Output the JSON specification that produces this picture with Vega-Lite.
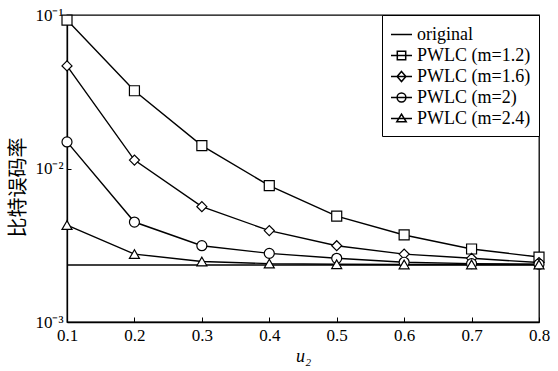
{
  "$schema": "https://vega.github.io/schema/vega-lite/v6.json",
  "width": 472,
  "height": 307,
  "autosize": {"type": "none"},
  "padding": {"left": 67, "top": 15, "right": 19, "bottom": 49},
  "background": "white",
  "config": {
    "view": {"stroke": "black", "strokeWidth": 1.3}
  },
  "data": {
    "values": [
      {"x": 0.1, "y": 0.00235, "s": "original"},
      {"x": 0.2, "y": 0.00235, "s": "original"},
      {"x": 0.3, "y": 0.00235, "s": "original"},
      {"x": 0.4, "y": 0.00235, "s": "original"},
      {"x": 0.5, "y": 0.00235, "s": "original"},
      {"x": 0.6, "y": 0.00235, "s": "original"},
      {"x": 0.7, "y": 0.00235, "s": "original"},
      {"x": 0.8, "y": 0.00235, "s": "original"},
      {"x": 0.1, "y": 0.0927, "s": "PWLC (m=1.2)"},
      {"x": 0.2, "y": 0.0321, "s": "PWLC (m=1.2)"},
      {"x": 0.3, "y": 0.0141, "s": "PWLC (m=1.2)"},
      {"x": 0.4, "y": 0.00773, "s": "PWLC (m=1.2)"},
      {"x": 0.5, "y": 0.00489, "s": "PWLC (m=1.2)"},
      {"x": 0.6, "y": 0.00369, "s": "PWLC (m=1.2)"},
      {"x": 0.7, "y": 0.00299, "s": "PWLC (m=1.2)"},
      {"x": 0.8, "y": 0.00265, "s": "PWLC (m=1.2)"},
      {"x": 0.1, "y": 0.0466, "s": "PWLC (m=1.6)"},
      {"x": 0.2, "y": 0.01135, "s": "PWLC (m=1.6)"},
      {"x": 0.3, "y": 0.00564, "s": "PWLC (m=1.6)"},
      {"x": 0.4, "y": 0.00394, "s": "PWLC (m=1.6)"},
      {"x": 0.5, "y": 0.00314, "s": "PWLC (m=1.6)"},
      {"x": 0.6, "y": 0.00277, "s": "PWLC (m=1.6)"},
      {"x": 0.7, "y": 0.0026, "s": "PWLC (m=1.6)"},
      {"x": 0.8, "y": 0.00244, "s": "PWLC (m=1.6)"},
      {"x": 0.1, "y": 0.0149, "s": "PWLC (m=2)"},
      {"x": 0.2, "y": 0.00448, "s": "PWLC (m=2)"},
      {"x": 0.3, "y": 0.00314, "s": "PWLC (m=2)"},
      {"x": 0.4, "y": 0.0028, "s": "PWLC (m=2)"},
      {"x": 0.5, "y": 0.0026, "s": "PWLC (m=2)"},
      {"x": 0.6, "y": 0.00245, "s": "PWLC (m=2)"},
      {"x": 0.7, "y": 0.0024, "s": "PWLC (m=2)"},
      {"x": 0.8, "y": 0.00238, "s": "PWLC (m=2)"},
      {"x": 0.1, "y": 0.00428, "s": "PWLC (m=2.4)"},
      {"x": 0.2, "y": 0.00277, "s": "PWLC (m=2.4)"},
      {"x": 0.3, "y": 0.00248, "s": "PWLC (m=2.4)"},
      {"x": 0.4, "y": 0.0024, "s": "PWLC (m=2.4)"},
      {"x": 0.5, "y": 0.00238, "s": "PWLC (m=2.4)"},
      {"x": 0.6, "y": 0.00237, "s": "PWLC (m=2.4)"},
      {"x": 0.7, "y": 0.00237, "s": "PWLC (m=2.4)"},
      {"x": 0.8, "y": 0.00237, "s": "PWLC (m=2.4)"}
    ]
  },
  "encoding": {
    "x": {
      "field": "x",
      "type": "quantitative",
      "scale": {"domain": [0.1, 0.8], "nice": false, "zero": false},
      "axis": {
        "values": [0.1, 0.2, 0.3, 0.4, 0.5, 0.6, 0.7, 0.8],
        "format": ".1f",
        "grid": false,
        "labelFlush": false,
        "domainColor": "black",
        "domainWidth": 1.3,
        "tickColor": "black",
        "tickWidth": 1,
        "tickSize": -5,
        "labelPadding": 10,
        "labelFont": "Liberation Serif",
        "labelFontSize": 17,
        "labelColor": "black",
        "title": "u₂",
        "titleColor": "black",
        "titleFont": "Liberation Serif",
        "titleFontSize": 18,
        "titleFontStyle": "italic",
        "titleFontWeight": "normal",
        "titlePadding": 4
      }
    },
    "y": {
      "field": "y",
      "type": "quantitative",
      "scale": {"type": "log", "domain": [0.001, 0.1], "nice": false},
      "axis": {
        "values": [0.001, 0.01, 0.1],
        "labelExpr": "'10' + (round(log(datum.value)/LN10) == -1 ? '⁻¹' : round(log(datum.value)/LN10) == -2 ? '⁻²' : '⁻³')",
        "grid": false,
        "labelFlush": false,
        "domainColor": "black",
        "domainWidth": 1.3,
        "tickColor": "black",
        "tickWidth": 1,
        "tickSize": -4,
        "labelPadding": 8,
        "labelFont": "Liberation Serif",
        "labelFontSize": 17,
        "labelColor": "black",
        "title": "比特误码率",
        "titleColor": "black",
        "titleFont": "Noto Sans CJK SC",
        "titleFontSize": 20,
        "titleFontWeight": "normal",
        "titleY": 172,
        "titlePadding": 6
      }
    }
  },
  "resolve": {"scale": {"shape": "independent"}, "legend": {"shape": "independent"}},
  "layer": [
    {
      "mark": {"type": "line", "color": "black", "strokeWidth": 1.4},
      "encoding": {"detail": {"field": "s", "type": "nominal"}}
    },
    {
      "transform": [{"filter": "datum.s !== 'original'"}],
      "mark": {"type": "point", "filled": true, "fill": "white", "stroke": "black", "strokeWidth": 1.2, "size": 100, "opacity": 1},
      "encoding": {
        "shape": {
          "field": "s",
          "type": "nominal",
          "scale": {
            "domain": ["PWLC (m=1.2)", "PWLC (m=1.6)", "PWLC (m=2)", "PWLC (m=2.4)"],
            "range": ["square", "diamond", "circle", "triangle-up"]
          },
          "legend": null
        }
      }
    },
    {
      "transform": [{"filter": "false"}],
      "mark": {"type": "point", "filled": false, "fill": "white", "stroke": "black", "strokeWidth": 1.3, "size": 441, "opacity": 1},
      "encoding": {
        "shape": {
          "field": "s",
          "type": "nominal",
          "scale": {
            "domain": ["original", "PWLC (m=1.2)", "PWLC (m=1.6)", "PWLC (m=2)", "PWLC (m=2.4)"],
            "range": [
              "M-1,0H1",
              "M-1,0H1M-0.4,-0.4H0.4V0.4H-0.4Z",
              "M-1,0H1M0,-0.48L0.42,0L0,0.48L-0.42,0Z",
              "M-1,0H1M0.42,0A0.42,0.42,0,1,1,-0.42,0A0.42,0.42,0,1,1,0.42,0Z",
              "M-1,0H1M0,-0.42L0.45,0.32H-0.45Z"
            ]
          },
          "legend": {
            "title": null,
            "orient": "top-right",
            "offset": 0,
            "strokeColor": "black",
            "fillColor": "white",
            "padding": 8,
            "labelFont": "Liberation Serif",
            "labelFontSize": 18,
            "labelColor": "black",
            "labelOffset": 4,
            "symbolSize": 441,
            "rowPadding": 0,
            "labelLimit": 300,
            "encode": {
              "symbols": {
                "update": {
                  "stroke": {"value": "black"},
                  "fill": {"value": "white"},
                  "strokeWidth": {"value": 1.3},
                  "opacity": {"value": 1},
                  "fillOpacity": {"value": 1},
                  "strokeOpacity": {"value": 1}
                }
              }
            }
          }
        }
      }
    }
  ]
}
